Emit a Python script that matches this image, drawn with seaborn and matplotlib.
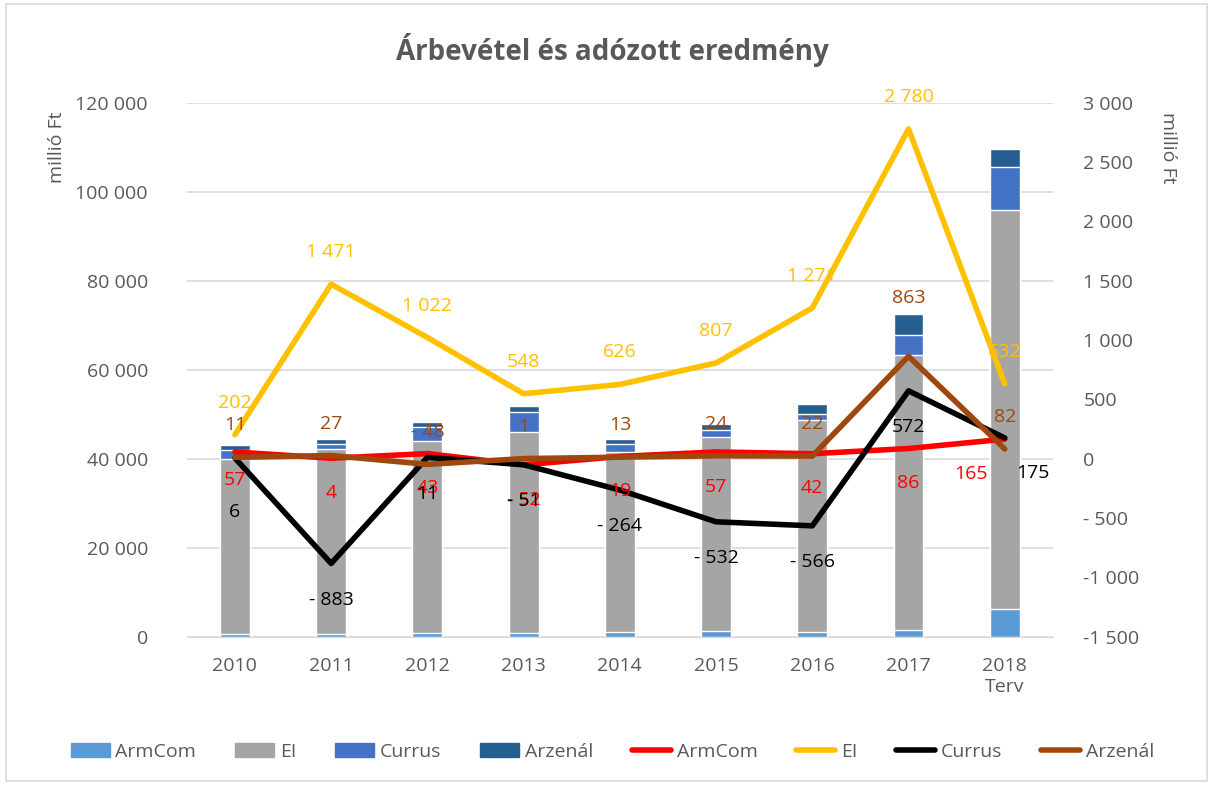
import numpy as np
import pandas as pd
import seaborn as sns
import matplotlib.pyplot as plt
from matplotlib.patches import Patch, Rectangle
from matplotlib.lines import Line2D
from matplotlib.ticker import FuncFormatter

years = ['2010', '2011', '2012', '2013', '2014', '2015', '2016', '2017', '2018\nTerv']

# árbevétel (bars, left axis)
rev_armcom = [600, 500, 800, 800, 1100, 1200, 1000, 1400, 6200]
rev_ei = [39400, 41700, 43100, 45300, 40300, 43600, 47750, 61900, 89750]
rev_currus = [2000, 1200, 3300, 4500, 2000, 1700, 1300, 4500, 9550]
rev_arzenal = [1100, 1100, 1000, 1150, 1100, 1400, 2250, 4700, 4150]

# adózott eredmény (lines, right axis)
res_armcom = [57, 4, 43, -52, 19, 57, 42, 86, 165]
res_ei = [202, 1471, 1022, 548, 626, 807, 1271, 2780, 632]
res_currus = [6, -883, 11, -51, -264, -532, -566, 572, 175]
res_arzenal = [11, 27, -48, 1, 13, 24, 22, 863, 82]

bar_colors = ['#5b9bd5', '#a5a5a5', '#4472c4', '#255e91']
line_colors = ['#ff0000', '#ffc000', '#000000', '#9e480e']
names = ['ArmCom', 'EI', 'Currus', 'Arzenál']
grey = '#595959'

sns.set_style('white')
plt.rcParams['font.family'] = ['Open Sans', 'DejaVu Sans']

df = pd.DataFrame({'year': years, 'ArmCom': rev_armcom, 'EI': rev_ei,
                   'Currus': rev_currus, 'Arzenál': rev_arzenal})
df['c1'] = df['ArmCom']
df['c2'] = df['c1'] + df['EI']
df['c3'] = df['c2'] + df['Currus']
df['c4'] = df['c3'] + df['Arzenál']

fig = plt.figure(figsize=(12.13, 7.85), dpi=100)
ax = fig.add_axes([0.154, 0.189, 0.714, 0.680])

# stacked bars: draw cumulative totals back to front
for col, c in zip(['c4', 'c3', 'c2', 'c1'], bar_colors[::-1]):
    sns.barplot(data=df, x='year', y=col, color=c, width=0.31, ax=ax,
                saturation=1, zorder=2)

ax.set_ylim(0, 120000)
ax.set_xlim(-0.5, 8.5)
ax.set_yticks(np.arange(0, 120001, 20000))
fmt = lambda v, p: f'{int(v):,}'.replace(',', ' ')
ax.yaxis.set_major_formatter(FuncFormatter(fmt))
ax.grid(axis='y', color='#d9d9d9', lw=1.2, zorder=0)
ax.set_axisbelow(True)
for s in ax.spines.values():
    s.set_visible(False)
ax.spines['bottom'].set_visible(True)
ax.spines['bottom'].set_color('#d9d9d9')
ax.set_xlabel('')
ax.set_ylabel('')
ax.tick_params(axis='both', colors=grey, labelsize=14, length=0)
ax.tick_params(axis='y', pad=28)
ax.tick_params(axis='x', pad=15)

ax2 = ax.twinx()
xs = np.arange(len(years))
series = [res_armcom, res_ei, res_currus, res_arzenal]
for vals, c in zip(series, line_colors):
    sns.lineplot(x=xs, y=vals, color=c, lw=4, ax=ax2, zorder=3)

ax2.set_ylim(-1500, 3000)
ax2.set_yticks(np.arange(-1500, 3001, 500))
fmt2 = lambda v, p: ('- 500' if int(v) == -500 else f'{int(v):,}'.replace(',', ' '))
ax2.yaxis.set_major_formatter(FuncFormatter(fmt2))
for s in ax2.spines.values():
    s.set_visible(False)
ax2.tick_params(axis='y', colors=grey, labelsize=14, length=0, pad=22)
ax2.set_xlim(-0.5, 8.5)

# data labels
def lab(vals, c, dy, dx=None):
    for i, v in enumerate(vals):
        ox = 0 if dx is None else dx.get(i, 0)
        oy = dy.get(i, dy['d']) if isinstance(dy, dict) else dy
        txt = f'{v:,}'.replace(',', ' ').replace('-', '- ')
        ax2.annotate(txt, (i, v), xytext=(ox, oy), textcoords='offset points',
                     ha='center', va='center', color=c, fontsize=14, zorder=5)

lab(res_ei, '#ffc000', 23)
lab(res_arzenal, '#9e480e', {'d': 23, 7: 42})
lab(res_armcom, '#ff0000', {'d': -25, 0: -20}, {8: -24})
lab(res_currus, '#000000', {'d': -26, 0: -39, 8: -25}, {8: 20})

# axis titles
fig.text(0.047, 0.812, 'millió Ft', rotation=90, ha='center', va='center',
         color=grey, fontsize=14)
fig.text(0.963, 0.812, 'millió Ft', rotation=270, ha='center', va='center',
         color=grey, fontsize=14)
fig.text(0.505, 0.936, 'Árbevétel és adózott eredmény', ha='center', va='center',
         color=grey, fontsize=20, fontweight='bold')

handles = [Patch(color=c, label=n) for c, n in zip(bar_colors, names)]
handles += [Line2D([0], [0], color=c, lw=4, label=n) for c, n in zip(line_colors, names)]
leg = fig.legend(handles=handles, loc='center', bbox_to_anchor=(0.505, 0.042), ncol=8,
                 frameon=False, fontsize=14, handlelength=2.0, handletextpad=0.3,
                 columnspacing=2.0)
for t in leg.get_texts():
    t.set_color(grey)

fig.patches.append(Rectangle((0.005, 0.005), 0.99, 0.99, transform=fig.transFigure,
                             fill=False, edgecolor='#d9d9d9', lw=1.2))

fig.savefig('out.png', dpi=100)
